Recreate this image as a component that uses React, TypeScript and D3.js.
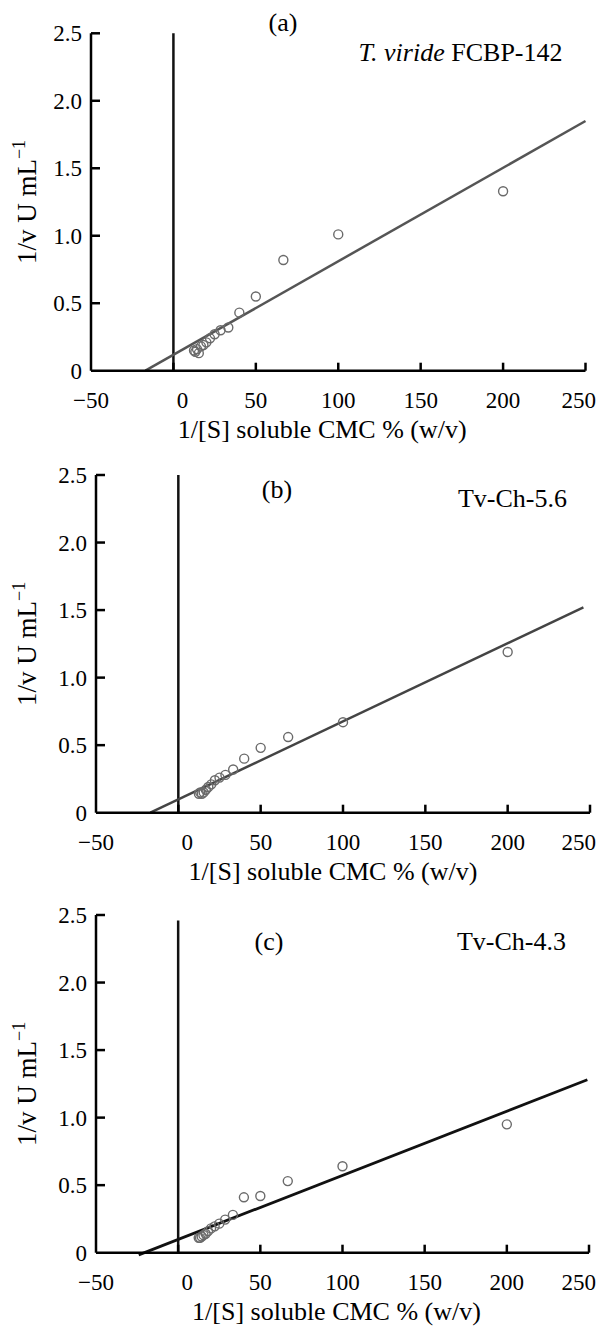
import React from 'react';
import * as d3 from 'd3';

// 1/[S] values (same substrate series in all three panels)
const invS = [200, 100, 66.7, 50, 40, 33.3, 28.6, 25, 22.2, 20, 18.2, 16.7, 15.4, 14.3, 13.3, 12.5];

// 1/v
const invVA = [1.33, 1.01, 0.82, 0.55, 0.43, 0.32, 0.3, 0.27, 0.24, 0.21, 0.19, 0.18, 0.13, 0.16, 0.14, 0.15];
const invVB = [1.19, 0.67, 0.56, 0.48, 0.4, 0.32, 0.28, 0.26, 0.24, 0.21, 0.19, 0.17, 0.15, 0.14, 0.15, 0.14];
const invVC = [0.95, 0.64, 0.53, 0.42, 0.41, 0.28, 0.245, 0.215, 0.195, 0.18, 0.16, 0.14, 0.13, 0.12, 0.11, 0.11];

// fitted Lineweaver-Burk lines: [x0, x1], [y0, y1]
const fitXA = [-17, 250];
const fitYA = [0, 1.85];
const fitXB = [-17, 246];
const fitYB = [0, 1.52];
const fitXC = [-24, 249];
const fitYC = [-0.016, 1.28];

const xTicks = [-50, 0, 50, 100, 150, 200, 250];
const yTicks = [0, 0.5, 1.0, 1.5, 2.0, 2.5];
const yTickLabels = ['0', '0.5', '1.0', '1.5', '2.0', '2.5'];

const font = '"Liberation Serif", "Times New Roman", serif';

type PanelProps = {
  xs: number[];
  ys: number[];
  fitX: number[];
  fitY: number[];
  left: number;
  right: number;
  top: number;
  bottom: number;
  vTop: number;
  titleDx: number;
  letter: string;
  letterX: number;
  letterY: number;
  label: React.ReactNode;
  labelY: number;
  lineColor: string;
  lineWidth: number;
};

const Panel = (p: PanelProps) => {
  const x = d3.scaleLinear().domain([-50, 250]).range([p.left, p.right]);
  const y = d3.scaleLinear().domain([0, 2.5]).range([p.bottom, p.top]);
  const fit = d3.line<number>()
    .x(d => x(d))
    .y((d, i) => y(p.fitY[i]));

  // where each x tick label sits (0 is nudged right of the vertical line, 250 kept inside the page)
  const labelPos = (t: number) => {
    if (t === 0) return { x: x(t) + 9, anchor: 'middle' };
    if (t === 250) return { x: 596, anchor: 'end' };
    return { x: x(t), anchor: 'middle' };
  };

  return (
    <g>
      {/* vertical line at 1/[S] = 0 */}
      <line x1={x(0)} x2={x(0)} y1={y(p.vTop)} y2={y(0)} stroke="#111" strokeWidth={2.5} />

      {/* fitted line */}
      <path d={fit(p.fitX) || ''} fill="none" stroke={p.lineColor} strokeWidth={p.lineWidth} />

      {/* points */}
      {p.xs.map((v, i) => (
        <circle key={i} cx={x(v)} cy={y(p.ys[i])} r={4.5} fill="none" stroke="#6a6a6a" strokeWidth={1.4} />
      ))}

      {/* axes */}
      <line x1={x(-50)} x2={x(250)} y1={y(0)} y2={y(0)} stroke="#000" strokeWidth={2.5} />
      <line x1={x(-50)} x2={x(-50)} y1={y(0)} y2={y(2.5)} stroke="#000" strokeWidth={2.5} />
      {xTicks.filter(t => t > -50).map(t => (
        <line key={t} x1={x(t)} x2={x(t)} y1={y(0)} y2={y(0) - 8} stroke="#000" strokeWidth={2.5} />
      ))}
      {yTicks.filter(t => t > 0).map(t => (
        <line key={t} x1={x(-50)} x2={x(-50) + 9} y1={y(t)} y2={y(t)} stroke="#000" strokeWidth={2.5} />
      ))}
      {xTicks.map(t => {
        const lp = labelPos(t);
        return (
          <text key={t} x={lp.x} y={y(0) + 37} textAnchor={lp.anchor}
            fontFamily={font} fontSize={23} fill="#000">
            {t < 0 ? '\u2212' + Math.abs(t) : t}
          </text>
        );
      })}
      {yTicks.map((t, i) => (
        <text key={t} x={x(-50) - 9} y={y(t)} dy="0.35em" textAnchor="end"
          fontFamily={font} fontSize={23} fill="#000">
          {yTickLabels[i]}
        </text>
      ))}

      {/* axis titles */}
      <text x={(x(-50) + x(250)) / 2 + p.titleDx} y={y(0) + 67} textAnchor="middle"
        fontFamily={font} fontSize={26} fill="#000">
        1/[S] soluble CMC % (w/v)
      </text>
      <text transform={`translate(36,${(p.top + p.bottom) / 2}) rotate(-90)`} textAnchor="middle"
        fontFamily={font} fontSize={27} fill="#000">
        1/v U mL<tspan fontSize={18} dy={-11}>{'\u22121'}</tspan>
      </text>

      {/* panel letter and strain label */}
      <text x={p.letterX} y={p.letterY} textAnchor="middle" fontFamily={font} fontSize={26} fill="#000">
        {p.letter}
      </text>
      <text x={p.right - 23} y={p.labelY} textAnchor="end" fontFamily={font} fontSize={26} fill="#000">
        {p.label}
      </text>
    </g>
  );
};

export default function App() {
  return (
    <svg width={602} height={1326} style={{ position: 'absolute', left: 0, top: 0, background: '#fff' }}>
      <Panel xs={invS} ys={invVA} fitX={fitXA} fitY={fitYA}
        left={91} right={585.5} top={33.3} bottom={370.7} vTop={2.5} titleDx={-16}
        letter="(a)" letterX={283} letterY={31}
        label={<><tspan fontStyle="italic">T. viride</tspan> FCBP-142</>} labelY={61}
        lineColor="#555" lineWidth={2.5} />
      <Panel xs={invS} ys={invVB} fitX={fitXB} fitY={fitYB}
        left={96} right={590} top={475} bottom={812.7} vTop={2.5} titleDx={-10}
        letter="(b)" letterX={277} letterY={498}
        label="Tv-Ch-5.6" labelY={507}
        lineColor="#444" lineWidth={2.5} />
      <Panel xs={invS} ys={invVC} fitX={fitXC} fitY={fitYC}
        left={96} right={589} top={915} bottom={1252.7} vTop={2.46} titleDx={-6}
        letter="(c)" letterX={269} letterY={950}
        label="Tv-Ch-4.3" labelY={950}
        lineColor="#111" lineWidth={2.8} />
    </svg>
  );
}
